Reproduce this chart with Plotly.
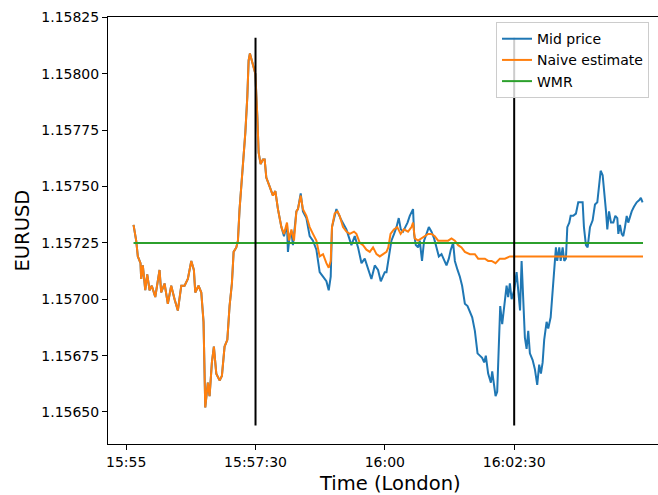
import pandas as pd
import plotly.graph_objects as go

# ---------------- data (seconds after 15:55:00, EURUSD price) ----------------
shared_secs = [8.5, 11.6, 13.5, 16.6, 17.4, 19.3, 22.1, 24.4, 27.1, 29.7, 33.7, 38.7,
               40.6, 44.5, 48.3, 52.2, 56.1, 59.9, 63.9, 67.7, 71.5, 75.5, 78.5, 80.1,
               83.9, 87.1, 89.7, 91.7, 94.7, 96.7, 99.4, 101.7, 104.5, 108.3, 111.0,
               114.1, 117.3, 119.9, 122.6, 124.6, 127.7, 129.6, 131.5, 134.2, 136.5,
               138.2, 140.5, 142.0, 143.5, 145.8, 148.1, 149.8, 152.1, 153.6, 155.9,
               158.6, 160.6, 162.5, 166.4, 170.2, 173.0, 176.0]
shared_vals = [1.15733, 1.15726, 1.15719, 1.15716, 1.15709, 1.15715, 1.15704, 1.15711,
               1.15704, 1.15706, 1.15701, 1.15713, 1.15703, 1.15707, 1.15698, 1.15706,
               1.15700, 1.15695, 1.15706, 1.15706, 1.15709, 1.15717, 1.15713, 1.15703,
               1.15706, 1.15703, 1.15690, 1.15652, 1.15663, 1.15657, 1.15672, 1.15679,
               1.15667, 1.15664, 1.15666, 1.15679, 1.15682, 1.15697, 1.15707, 1.15721,
               1.15723, 1.15726, 1.15740, 1.15753, 1.15766, 1.15774, 1.15790, 1.15806,
               1.15809, 1.15806, 1.15803, 1.15800, 1.15781, 1.15765, 1.15760, 1.15762,
               1.15762, 1.15754, 1.15750, 1.15746, 1.15748, 1.15740]

naive_late_secs = [180.0, 183.0, 186.5, 188.8, 191.6, 194.6, 197.4, 199.2, 202.4, 205.0,
                   209.0, 212.8, 216.6, 220.6, 224.4, 228.3, 232.2, 234.9, 237.2, 238.7,
                   241.8, 245.0, 247.6, 251.5, 255.4, 259.3, 264.2, 267.0, 270.9, 274.7,
                   278.6, 282.5, 286.3, 290.3, 294.1, 298.0, 301.9, 304.0, 306.6, 310.5,
                   314.4, 318.3, 322.1, 326.9, 330.9, 332.7, 334.7, 338.5, 342.5, 346.3,
                   350.2, 354.1, 357.9, 361.8, 365.7, 369.6, 373.4, 377.3, 381.2, 385.0,
                   388.9, 392.8, 398.6, 404.4, 408.2, 412.2, 416.0, 419.8, 423.8, 428.4,
                   433.4, 439.2, 445.0, 599.4]
naive_late_vals = [1.15732, 1.15729, 1.15734, 1.15726, 1.15731, 1.15726, 1.15739, 1.15740,
                   1.15746, 1.15740, 1.15737, 1.15732, 1.15729, 1.15726, 1.15719, 1.15720,
                   1.15716, 1.15714, 1.15717, 1.15732, 1.15738, 1.15739, 1.15737, 1.15732,
                   1.15730, 1.15729, 1.15730, 1.15729, 1.15725, 1.15724, 1.15722, 1.15721,
                   1.15723, 1.15720, 1.15719, 1.15720, 1.15721, 1.15723, 1.15729, 1.15731,
                   1.15732, 1.15729, 1.15731, 1.15730, 1.15732, 1.15734, 1.15727, 1.15726,
                   1.15727, 1.15728, 1.15729, 1.15729, 1.15728, 1.15726, 1.15726, 1.15726,
                   1.15726, 1.15727, 1.15726, 1.15724, 1.15723, 1.15721, 1.15720, 1.15720,
                   1.15718, 1.15718, 1.15718, 1.15717, 1.15717, 1.15716, 1.15718, 1.15718,
                   1.15719, 1.15719]

mid_late_secs = [180.0, 183.0, 186.5, 187.6, 189.6, 191.6, 193.4, 197.4, 199.2, 202.4,
                 205.0, 209.0, 212.8, 216.6, 220.6, 224.4, 228.3, 232.2, 234.9, 237.2,
                 238.7, 243.8, 249.6, 255.4, 261.2, 265.1, 268.9, 272.9, 276.7, 280.5,
                 284.4, 288.3, 292.1, 295.3, 299.9, 301.9, 303.7, 305.7, 307.6, 310.7,
                 313.5, 316.1, 318.5, 321.1, 323.9, 326.3, 328.9, 330.9, 332.7, 333.9,
                 335.9, 338.5, 340.5, 343.1, 345.5, 348.3, 351.0, 354.1, 357.1, 359.9,
                 362.6, 365.7, 368.7, 371.5, 374.2, 376.5, 379.2, 381.2, 384.3, 387.0,
                 389.6, 392.8, 395.9, 398.6, 401.3, 404.4, 407.5, 410.2, 412.8, 415.2,
                 417.1, 419.8, 423.0, 424.5, 426.4, 428.4, 430.3, 432.2, 433.8, 436.1,
                 438.4, 441.2, 443.0, 445.0, 447.0, 450.0, 452.8, 455.7, 456.8, 458.6,
                 460.5, 462.4, 464.4, 466.3, 468.2, 471.4, 474.0, 476.7, 479.0, 481.0,
                 483.0, 484.8, 487.6, 489.5, 492.3, 494.6, 496.1, 498.4, 499.9, 502.3,
                 503.9, 506.2, 508.1, 510.0, 511.6, 513.9, 515.5, 518.5, 521.6, 524.3,
                 527.1, 529.4, 530.9, 533.2, 535.2, 537.9, 541.0, 543.7, 546.4, 548.7,
                 550.3, 552.6, 554.5, 556.5, 558.0, 560.0, 562.3, 565.0, 567.3, 569.6,
                 570.8, 572.7, 574.7, 576.5, 578.5, 580.5, 582.3, 584.3, 586.3, 588.9,
                 592.1, 595.1, 596.9, 598.9]
mid_late_vals = [1.15732, 1.15728, 1.15733, 1.15721, 1.15728, 1.15730, 1.15724, 1.15739,
                 1.15740, 1.15747, 1.15739, 1.15736, 1.15728, 1.15726, 1.15722, 1.15712,
                 1.15710, 1.15708, 1.15704, 1.15710, 1.15732, 1.15740, 1.15735, 1.15731,
                 1.15724, 1.15728, 1.15723, 1.15716, 1.15718, 1.15713, 1.15709, 1.15715,
                 1.15713, 1.15708, 1.15712, 1.15712, 1.15717, 1.15721, 1.15726, 1.15729,
                 1.15732, 1.15736, 1.15731, 1.15730, 1.15732, 1.15734, 1.15737, 1.15739,
                 1.15740, 1.15729, 1.15724, 1.15723, 1.15726, 1.15717, 1.15726, 1.15729,
                 1.15732, 1.15730, 1.15727, 1.15723, 1.15719, 1.15720, 1.15717, 1.15715,
                 1.15718, 1.15722, 1.15725, 1.15717, 1.15713, 1.15710, 1.15706, 1.15698,
                 1.15697, 1.15694, 1.15692, 1.15686, 1.15676, 1.15675, 1.15674, 1.15672,
                 1.15675, 1.15667, 1.15663, 1.15668, 1.15662, 1.15657, 1.15659, 1.15682,
                 1.15697, 1.15689, 1.15698, 1.15706, 1.15701, 1.15707, 1.15700, 1.15704,
                 1.15712, 1.15697, 1.15695, 1.15717, 1.15701, 1.15683, 1.15678, 1.15686,
                 1.15676, 1.15673, 1.15669, 1.15662, 1.15671, 1.15667, 1.15672, 1.15682,
                 1.15690, 1.15687, 1.15692, 1.15704, 1.15715, 1.15723, 1.15717, 1.15723,
                 1.15717, 1.15723, 1.15717, 1.15718, 1.15732, 1.15734, 1.15737, 1.15737,
                 1.15738, 1.15743, 1.15743, 1.15743, 1.15732, 1.15724, 1.15723, 1.15732,
                 1.15735, 1.15742, 1.15743, 1.15751, 1.15757, 1.15755, 1.15748, 1.15739,
                 1.15731, 1.15739, 1.15734, 1.15734, 1.15737, 1.15736, 1.15729, 1.15733,
                 1.15729, 1.15728, 1.15732, 1.15737, 1.15734, 1.15737, 1.15739, 1.15741,
                 1.15743, 1.15744, 1.15745, 1.15743]

mid_secs = shared_secs + mid_late_secs
mid_vals = shared_vals + mid_late_vals
naive_secs = shared_secs + naive_late_secs
naive_vals = shared_vals + naive_late_vals

wmr_secs = [8.5, 599.4]
wmr_value = 1.15725

vline_secs = [150, 450]
vline_bounds = [1.15644, 1.15816]

x_tick_secs = [0, 150, 300, 450]
x_tick_labels = ["15:55", "15:57:30", "16:00", "16:02:30"]
y_tick_vals = [1.15650, 1.15675, 1.15700, 1.15725, 1.15750, 1.15775, 1.15800, 1.15825]
y_tick_labels = ["1.15650", "1.15675", "1.15700", "1.15725", "1.15750", "1.15775",
                 "1.15800", "1.15825"]

# ---------------- figure ----------------
base = pd.Timestamp("2021-01-01 15:55:00")


def to_time(secs):
    return [base + pd.Timedelta(seconds=float(s)) for s in secs]


FONT = "DejaVu Sans"
BLUE, ORANGE, GREEN = "#1f77b4", "#ff7f0e", "#2ca02c"

fig = go.Figure()
fig.add_trace(go.Scatter(x=to_time(mid_secs), y=mid_vals, mode="lines",
                         name="Mid price", line=dict(color=BLUE, width=2)))
fig.add_trace(go.Scatter(x=to_time(naive_secs), y=naive_vals, mode="lines",
                         name="Naive estimate", line=dict(color=ORANGE, width=2)))
fig.add_trace(go.Scatter(x=to_time(wmr_secs), y=[wmr_value] * len(wmr_secs), mode="lines",
                         name="WMR", line=dict(color=GREEN, width=2)))
for s in vline_secs:
    fig.add_trace(go.Scatter(x=to_time([s, s]), y=vline_bounds, mode="lines",
                             showlegend=False, hoverinfo="skip",
                             line=dict(color="black", width=2)))

fig.update_layout(
    width=658, height=495,
    margin=dict(l=108, r=0, t=17, b=51),
    paper_bgcolor="white", plot_bgcolor="white",
    font=dict(family=FONT, size=14, color="black"),
    showlegend=True,
    legend=dict(x=0.7055, y=0.988, xanchor="left", yanchor="top",
                bgcolor="rgba(255,255,255,0.8)", bordercolor="#cccccc", borderwidth=1,
                font=dict(family=FONT, size=14, color="black"), itemwidth=30),
    xaxis=dict(type="date", range=to_time([-21.1, 616.8]),
               tickvals=to_time(x_tick_secs), ticktext=x_tick_labels,
               showgrid=False, zeroline=False, showline=True, linecolor="black",
               linewidth=1, mirror=True, ticks="outside", ticklen=5, tickwidth=1,
               tickcolor="black", tickfont=dict(family=FONT, size=14, color="black")),
    yaxis=dict(range=[1.156358, 1.158252], tickvals=y_tick_vals, ticktext=y_tick_labels,
               showgrid=False, zeroline=False, showline=True, linecolor="black",
               linewidth=1, mirror=False, ticks="outside", ticklen=5, tickwidth=1,
               tickcolor="black", tickfont=dict(family=FONT, size=14, color="black")),
    annotations=[
        dict(text="Time (London)", xref="paper", yref="paper", x=0.5127, y=0,
             yshift=-39, xanchor="center", yanchor="middle", showarrow=False,
             font=dict(family=FONT, size=19.5, color="black")),
        dict(text="EURUSD", xref="paper", yref="paper", x=0, y=0.5, xshift=-86,
             xanchor="center", yanchor="middle", textangle=-90, showarrow=False,
             font=dict(family=FONT, size=19.5, color="black")),
    ],
)

fig.write_html("out.html")
